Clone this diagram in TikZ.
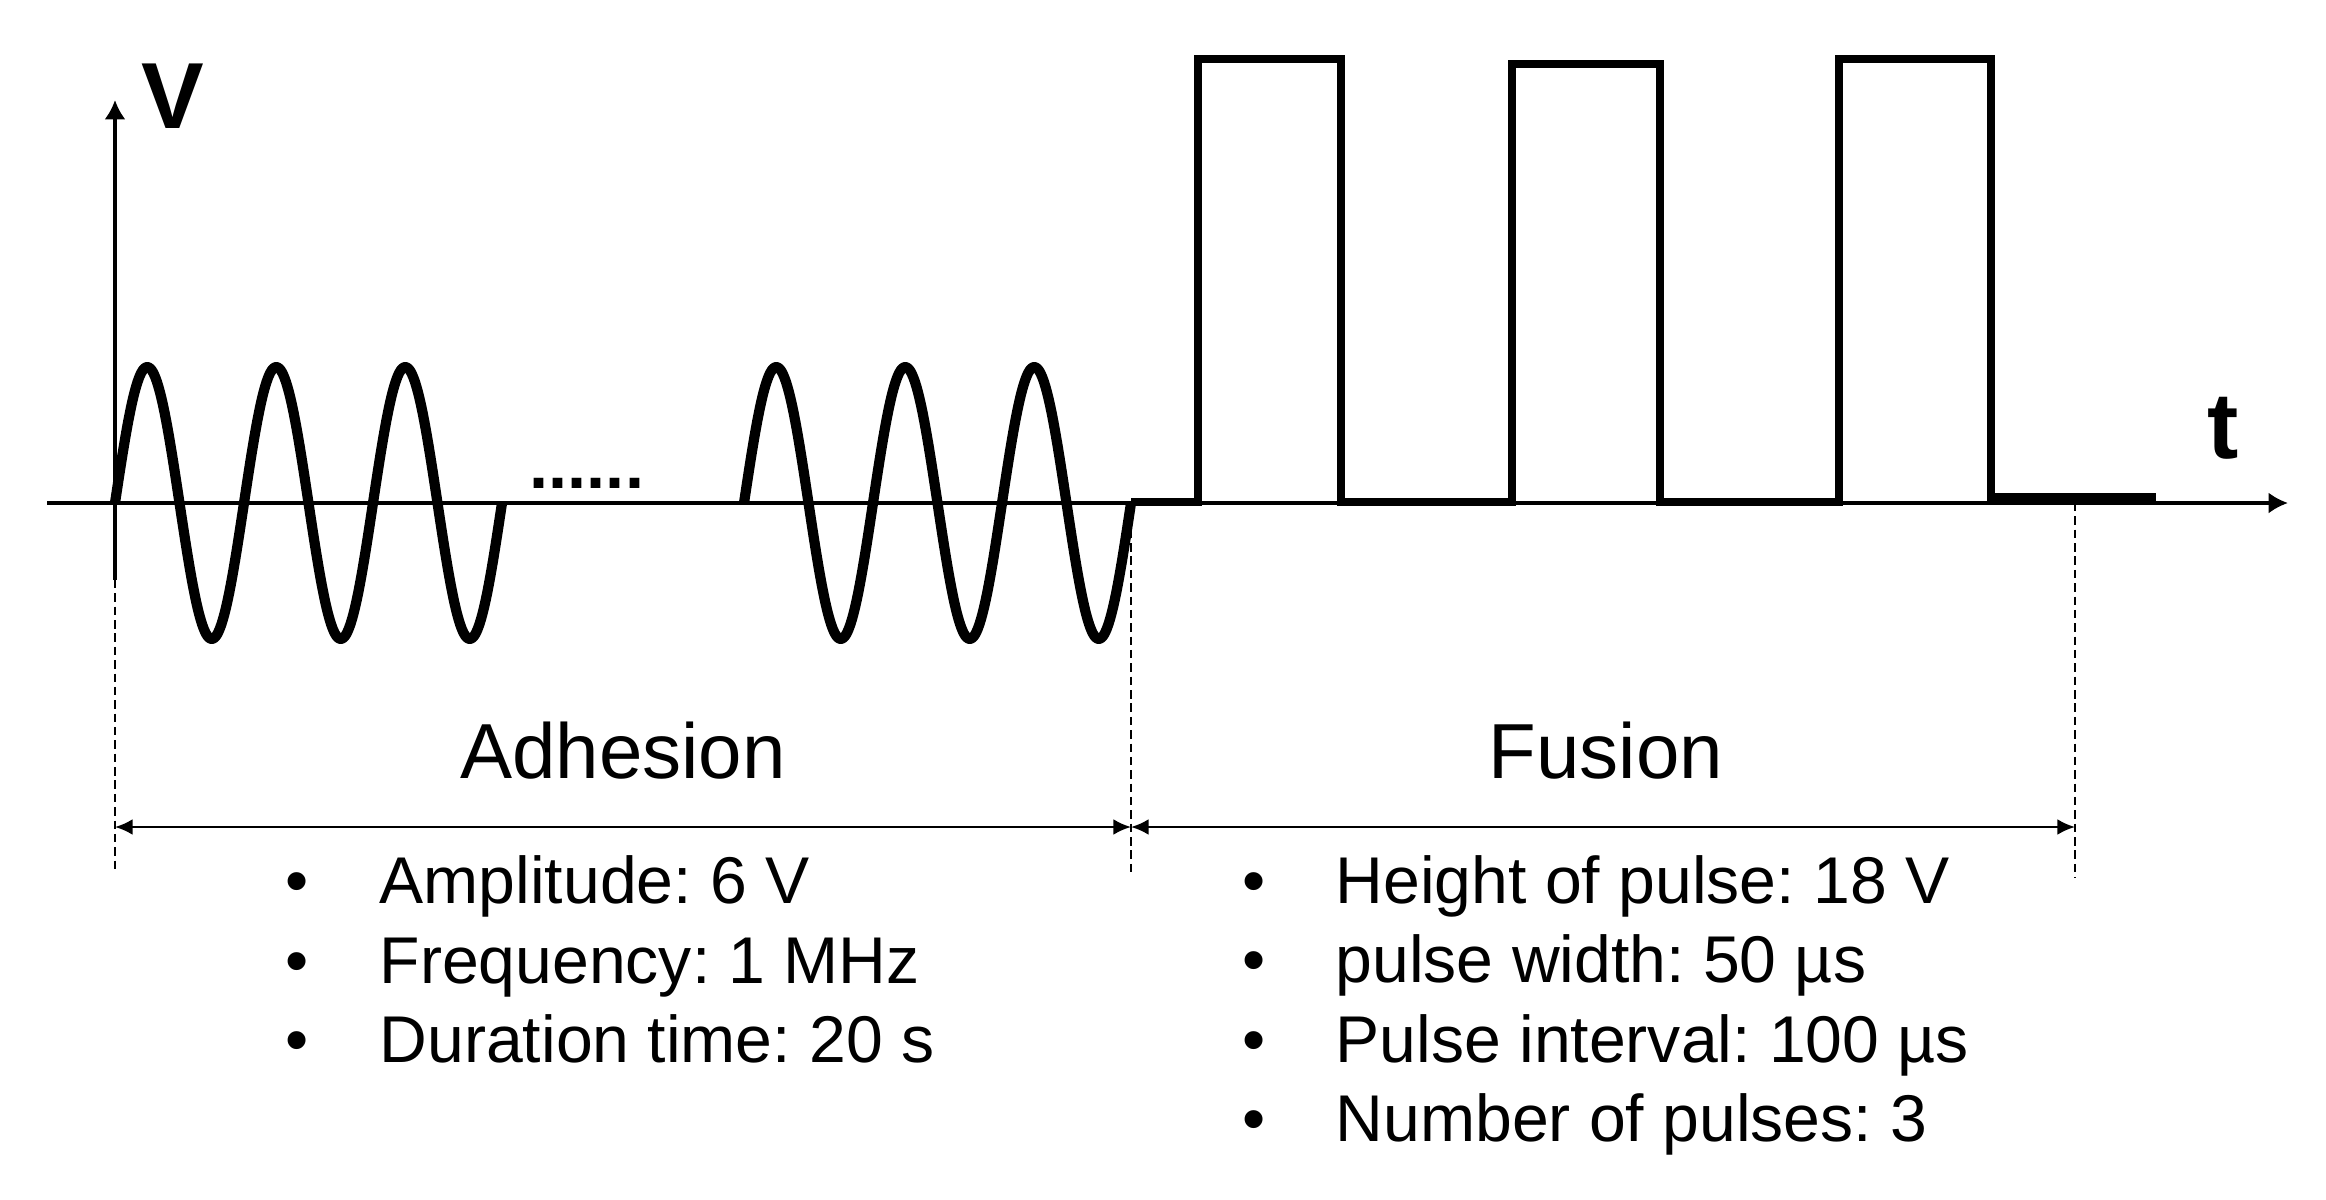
\documentclass[tikz,border=0pt]{standalone}
\usepackage{fontspec}
\setmainfont{Liberation Sans}
\usetikzlibrary{arrows.meta}
\frenchspacing
\begin{document}
\begin{tikzpicture}[x=0.01cm,y=-0.01cm,
  axis/.style={line width=1pt},
  axarrow/.style={-{Latex[length=5.5pt,width=6pt]}},
  wave/.style={line width=2.9pt, line join=round},
  pulse/.style={line width=2.4pt, line join=miter},
  guide/.style={line width=0.5pt, dash pattern=on 2.4pt off 1.4pt},
  dim/.style={line width=0.7pt, {Latex[length=5pt,width=4.5pt]}-{Latex[length=5pt,width=4.5pt]}},
  axlabel/.style={font=\fontsize{26.7}{30}\selectfont\bfseries, inner sep=0pt, anchor=base west},
  phase/.style={font=\fontsize{22.2}{26}\selectfont, inner sep=0pt, anchor=base},
  listitem/.style={font=\fontsize{18.8}{22}\selectfont, inner sep=0pt, anchor=base west},
  bul/.style={font=\fontsize{18.8}{22}\selectfont, inner sep=0pt, anchor=base},
]
\useasboundingbox (0,0) rectangle (2326,1200);
\fill[white] (0,0) rectangle (2326,1200);

% key coordinates
\coordinate (tstart) at (47,503);
\coordinate (tend) at (2288,503);
\coordinate (vbot) at (115,580);
\coordinate (vtop) at (115,100);
\coordinate (g1top) at (115,580);
\coordinate (g1bot) at (115,873);
\coordinate (g2top) at (1131,503);
\coordinate (g2bot) at (1131,874);
\coordinate (g3top) at (2075,503);
\coordinate (g3bot) at (2075,878);
\coordinate (d1) at (115,827);
\coordinate (d2) at (1131,827);
\coordinate (d3) at (2075,827);

% axes
\draw[axis, axarrow] (tstart) -- (tend);
\draw[axis, axarrow] (vbot) -- (vtop);
\node[axlabel] (vlab) at (141,128) {V};
\node[axlabel] (tlab) at (2207,458) {t};

% sine bursts
\draw[wave] plot[domain=0:1080, samples=181, smooth] ({115+\x*0.358333},{503-136*sin(\x)});
\draw[wave] plot[domain=0:1080, samples=181, smooth] ({744+\x*0.358333},{503-136*sin(\x)});
\node[font=\fontsize{19.5}{22}\selectfont\bfseries, inner sep=0pt, anchor=base west] (dots) at (529,488) {......};

% pulses
\draw[pulse] (1131,502) -- (1198,502) -- (1198,59) -- (1341,59) -- (1341,502)
  -- (1512,502) -- (1512,64) -- (1660,64) -- (1660,502)
  -- (1839,502) -- (1839,59) -- (1991,59) -- (1991,497) -- (2156,497);

% guides and dimension lines
\draw[guide] (g1top) -- (g1bot);
\draw[guide] (g2top) -- (g2bot);
\draw[guide] (g3top) -- (g3bot);
\draw[dim] (d1) -- (d2);
\draw[dim] (d2) -- (d3);

% phase labels
\node[phase] (adh) at (623,778) {Adhesion};
\node[phase] (fus) at (1606,778) {Fusion};

% adhesion list
\node[bul] (ab1) at (297,903) {•};
\node[bul] (ab2) at (297,983) {•};
\node[bul] (ab3) at (297,1062) {•};
\node[listitem] (a1) at (379,903) {Amplitude: 6 V};
\node[listitem] (a2) at (379,983) {Frequency: 1 MHz};
\node[listitem] (a3) at (379,1062) {Duration time: 20 s};

% fusion list
\node[bul] (fb1) at (1254,903) {•};
\node[bul] (fb2) at (1254,982) {•};
\node[bul] (fb3) at (1254,1062) {•};
\node[bul] (fb4) at (1254,1141) {•};
\node[listitem] (f1) at (1335,903) {Height of pulse: 18 V};
\node[listitem] (f2) at (1335,982) {pulse width: 50 µs};
\node[listitem] (f3) at (1335,1062) {Pulse interval: 100 µs};
\node[listitem] (f4) at (1335,1141) {Number of pulses: 3};
\end{tikzpicture}
\end{document}
